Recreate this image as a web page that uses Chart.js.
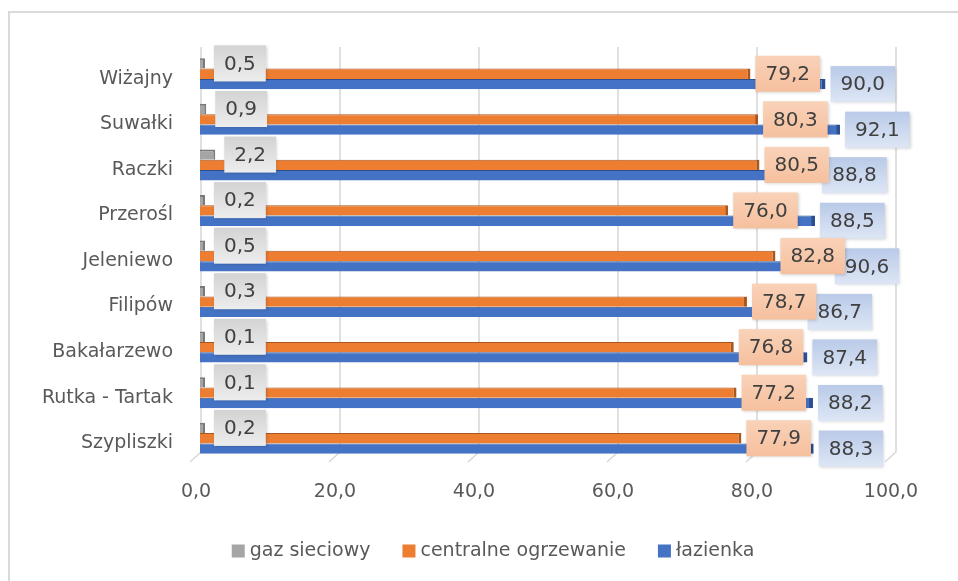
<!DOCTYPE html>
<html><head><meta charset="utf-8">
<script src="https://cdn.jsdelivr.net/npm/chart.js@4.4.1/dist/chart.umd.min.js"></script>
<style>
html,body{margin:0;padding:0;background:#fff;overflow:hidden}
#wrap{position:relative;width:958px;height:581px;overflow:hidden}
#frame{position:absolute;left:8px;top:11px;width:1000px;height:1000px;border-left:2px solid #d9d9d9;border-top:2px solid #d9d9d9;box-sizing:border-box}
canvas{position:absolute;left:0;top:0}
</style></head><body>
<div id="wrap"><div id="frame"></div><canvas id="c" width="958" height="581"></canvas></div>
<script>
const categories = ['Wiżajny','Suwałki','Raczki','Przerośl','Jeleniewo','Filipów','Bakałarzewo','Rutka - Tartak','Szypliszki'];
const gazSieciowy = [0.5,0.9,2.2,0.2,0.5,0.3,0.1,0.1,0.2];
const centralneOgrzewanie = [79.2,80.3,80.5,76.0,82.8,78.7,76.8,77.2,77.9];
const lazienka = [90.0,92.1,88.8,88.5,90.6,86.7,87.4,88.2,88.3];
const seriesNames = ['gaz sieciowy','centralne ogrzewanie','łazienka'];
const xTicks = [0,20,40,60,80,100];

const FONT = "'DejaVu Sans', sans-serif";
const fmt = v => v.toFixed(1).replace('.', ',');

const labelStyles = [
  {top:'#d3d3d3', bottom:'#ededed', offset:9},
  {top:'#f9d2b8', bottom:'#f6c09e', offset:5},
  {top:'#b9cae8', bottom:'#dde6f5', offset:5}
];

const gridPlugin = {
  id:'grid3d',
  beforeDatasetsDraw(chart){
    const {ctx, chartArea} = chart; const xs = chart.scales.x;
    ctx.save();
    ctx.strokeStyle = '#d9d9d9'; ctx.lineWidth = 1.6;
    const top = chartArea.top - 4, bot = chartArea.bottom - 9;
    xTicks.forEach(v => {
      const px = xs.getPixelForValue(v) + 1;
      ctx.beginPath(); ctx.moveTo(px, top); ctx.lineTo(px, bot); ctx.lineTo(px - 11, bot + 10); ctx.stroke();
    });
    ctx.restore();
  }
};

const labelPlugin = {
  id:'boxLabels',
  afterDatasetsDraw(chart){
    const ctx = chart.ctx;
    ctx.save();
    ctx.font = '20px ' + FONT;
    for (let d = chart.data.datasets.length - 1; d >= 0; d--) {
      const meta = chart.getDatasetMeta(d);
      const st = labelStyles[d];
      meta.data.forEach((el, i) => {
        const txt = fmt(chart.data.datasets[d].data[i]);
        const tw = ctx.measureText(txt).width;
        const w = tw + 20, h = 36;
        const x0 = el.x + st.offset, y0 = el.y - h/2;
        const g = ctx.createLinearGradient(0, y0, 0, y0 + h);
        g.addColorStop(0, st.top); g.addColorStop(1, st.bottom);
        ctx.save();
        ctx.shadowColor = 'rgba(0,0,0,0.18)'; ctx.shadowBlur = 3; ctx.shadowOffsetX = 1; ctx.shadowOffsetY = 1;
        ctx.fillStyle = g; ctx.fillRect(x0, y0, w, h);
        ctx.restore();
        ctx.fillStyle = '#404040'; ctx.textAlign = 'center'; ctx.textBaseline = 'middle';
        ctx.fillText(txt, x0 + w/2, el.y + 1);
      });
    }
    ctx.restore();
  }
};

const legendPlugin = {
  id:'bottomLegend',
  afterDraw(chart){
    const ctx = chart.ctx;
    ctx.save();
    ctx.font = '19px ' + FONT;
    const box = 13, gap = 5, spacing = 32, cx = 493, cy = 551;
    const items = chart.data.datasets.map(ds => ({text: ds.label, color: ds.backgroundColor, w: ctx.measureText(ds.label).width}));
    const total = items.reduce((s, it) => s + box + gap + it.w, 0) + spacing * (items.length - 1);
    let x = cx - total / 2;
    ctx.textBaseline = 'middle'; ctx.textAlign = 'left';
    items.forEach(it => {
      ctx.fillStyle = it.color; ctx.fillRect(x, cy - box/2, box, box);
      x += box + gap;
      ctx.fillStyle = '#595959'; ctx.fillText(it.text, x, cy);
      x += it.w + spacing;
    });
    ctx.restore();
  }
};

new Chart(document.getElementById('c'), {
  type:'bar',
  data:{
    labels: categories,
    datasets:[
      {label: seriesNames[0], data: gazSieciowy, backgroundColor:'#a5a5a5', borderColor:'#7a7a7a', borderWidth:{top:2,right:2,bottom:0,left:0}, borderSkipped:false, minBarLength:5},
      {label: seriesNames[1], data: centralneOgrzewanie, backgroundColor:'#ed7d31', borderColor:'#a9561f', borderWidth:{top:1,right:3,bottom:0,left:0}, borderSkipped:false},
      {label: seriesNames[2], data: lazienka, backgroundColor:'#4472c4', borderColor:'#2b4f91', borderWidth:{top:1,right:4,bottom:0,left:0}, borderSkipped:false}
    ]
  },
  options:{
    indexAxis:'y',
    responsive:false,
    animation:false,
    devicePixelRatio:1,
    layout:{padding:{left:0, top:51, right:63, bottom:72}},
    datasets:{bar:{categoryPercentage:0.68, barPercentage:1}},
    scales:{
      x:{
        min:0, max:100,
        afterBuildTicks(s){ s.ticks = xTicks.map(v => ({value:v})); },
        afterFit(s){ s.height = 48; },
        grid:{display:false, drawTicks:false},
        border:{display:false},
        ticks:{padding:20, labelOffset:-4, color:'#595959', font:{family:FONT, size:19}, callback:v => fmt(v)}
      },
      y:{
        afterFit(s){ s.width = 200; },
        grid:{display:false, drawTicks:false},
        border:{display:false},
        ticks:{padding:27, labelOffset:5, color:'#595959', font:{family:FONT, size:19}}
      }
    },
    plugins:{
      legend:{display:false},
      tooltip:{enabled:false}
    }
  },
  plugins:[gridPlugin, labelPlugin, legendPlugin]
});
</script>
</body></html>
